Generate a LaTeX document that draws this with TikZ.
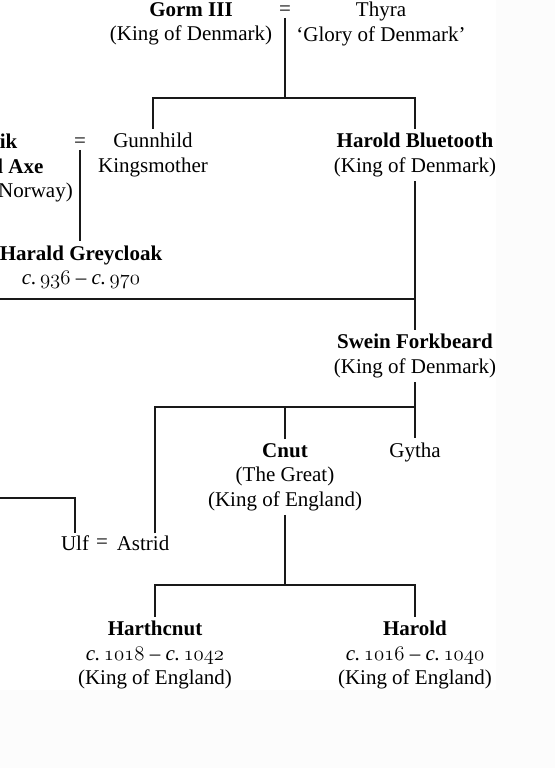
\documentclass[tikz,border=0pt]{standalone}
\usepackage{fontspec}
\setmainfont{Liberation Serif}
\usepackage{tikz}
\usetikzlibrary{positioning}

\newcommand{\lifespan}[2]{\textit{c.}\,\legacyoldstylenums{#1} -- \textit{c.}\,\legacyoldstylenums{#2}}

\begin{document}
\begin{tikzpicture}[
    x=1pt, y=-1pt,
    person/.style={align=center, inner sep=4pt, font=\fontsize{21}{24.5}\selectfont},
    marriage/.style={inner sep=2pt, font=\fontsize{21}{24.5}\selectfont},
    line/.style={line width=2.2pt, draw=black!90}
  ]
    \useasboundingbox (0,0) rectangle (555,768);
    \fill[gray!2] (0,0) rectangle (555,768);
    \fill[white] (0,0) rectangle (496,690);

    % first generation
    \node[person] (gorm) at (191,24) {\textbf{Gorm III}\\(King of Denmark)};
    \node[marriage] (eqA) at (285,11) {=};
    \node[person] (thyra) at (381,24) {Thyra\\`Glory of Denmark'};

    % second generation
    \node[person] (erik) at (-3,168) {\textbf{Erik}\\\textbf{Blood Axe}\\(King of Norway)};
    \node[marriage] (eqB) at (80,143) {=};
    \node[person] (gunnhild) at (153,155) {Gunnhild\\Kingsmother};
    \node[person] (bluetooth) at (415,155) {\textbf{Harold Bluetooth}\\(King of Denmark)};
    \node[person] (greycloak) at (81,267) {\textbf{Harald Greycloak}\\\lifespan{936}{970}};
    \node[person] (swein) at (415,356) {\textbf{Swein Forkbeard}\\(King of Denmark)};

    % third generation
    \node[person] (cnut) at (285,477) {\textbf{Cnut}\\(The Great)\\(King of England)};
    \node[person] (gytha) at (415,452) {Gytha};
    \node[marriage] (ulf) at (75,543) {Ulf};
    \node[marriage] (eqC) at (102,544) {=};
    \node[marriage] (astrid) at (143,543) {Astrid};

    % fourth generation
    \node[person] (harthcnut) at (155,655) {\textbf{Harthcnut}\\\lifespan{1018}{1042}\\(King of England)};
    \node[person] (harold) at (415,655) {\textbf{Harold}\\\lifespan{1016}{1040}\\(King of England)};

    \coordinate (barA) at (285,98);
    \coordinate (leftA) at (0,299);
    \coordinate (barB) at (155,407);
    \coordinate (leftB) at (0,498);
    \coordinate (barC) at (285,585);

    \draw[line] (eqA.south) -- (barA);
    \draw[line] (gunnhild.north) |- (barA) -| (bluetooth.north);
    \draw[line] (eqB.south) -- (eqB.south |- greycloak.north);
    \draw[line] (bluetooth.south) -- (swein.north);
    \draw[line] (leftA) -- (leftA -| swein.north);
    \draw[line] (swein.south) -- (gytha.north);
    \draw[line] (astrid.north -| barB) -- (barB) -| (swein.south);
    \draw[line] (cnut.north) -- (cnut.north |- barB);
    \draw[line] (leftB) -| (ulf.north);
    \draw[line] (cnut.south) -- (barC);
    \draw[line] (harthcnut.north) |- (barC) -| (harold.north);
  \end{tikzpicture}
\end{document}
